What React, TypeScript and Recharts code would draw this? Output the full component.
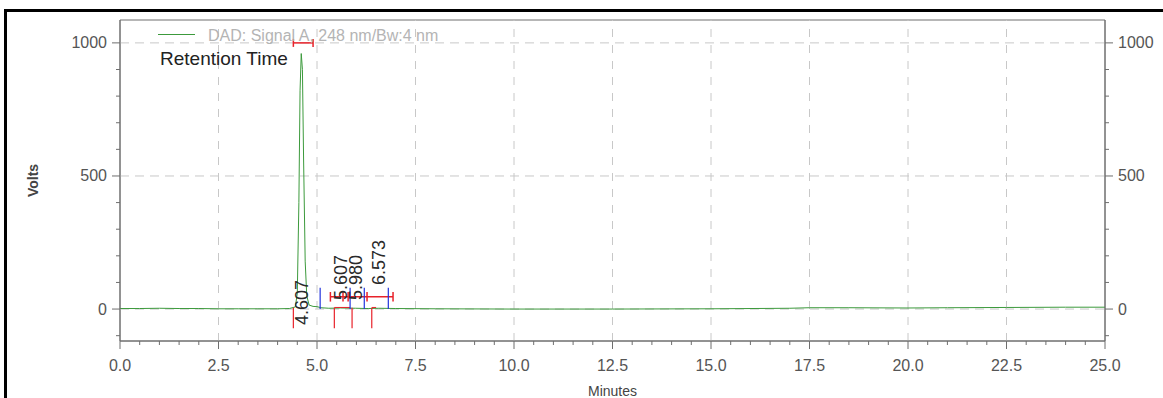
import React from "react";
import { LineChart, Line, XAxis, YAxis, ReferenceLine, ReferenceDot, ReferenceArea } from "recharts";

// chromatogram trace (minutes, volts)
const times = [0, 0.5, 1.0, 1.5, 2.0, 2.5, 3.0, 3.5, 4.0, 4.3, 4.45, 4.5, 4.54, 4.57, 4.6, 4.63, 4.66, 4.7, 4.74, 4.8, 4.9, 5.0, 5.1, 5.3, 5.6, 5.98, 6.3, 6.57, 7.0, 8.0, 10.0, 12.5, 15.0, 17.0, 17.5, 18.5, 20.0, 21.0, 22.5, 24.0, 25.0];
const volts = [2, 2, 3, 2, 2, 1, 1, 1, 1, 2, 8, 60, 400, 820, 960, 900, 560, 180, 50, 15, 10, 9, 5, 3, 4, 3, 2, 3, 2, 1, 0, 0, 1, 3, 5, 5, 4, 5, 6, 7, 7];

const xMajorTicks = [0, 2.5, 5, 7.5, 10, 12.5, 15, 17.5, 20, 22.5, 25];
const xAllTicks = [0, 0.5, 1, 1.5, 2, 2.5, 3, 3.5, 4, 4.5, 5, 5.5, 6, 6.5, 7, 7.5, 8, 8.5, 9, 9.5, 10, 10.5, 11, 11.5, 12, 12.5, 13, 13.5, 14, 14.5, 15, 15.5, 16, 16.5, 17, 17.5, 18, 18.5, 19, 19.5, 20, 20.5, 21, 21.5, 22, 22.5, 23, 23.5, 24, 24.5, 25];
const yMajorTicks = [0, 500, 1000];
const yAllTicks = [-100, 0, 100, 200, 300, 400, 500, 600, 700, 800, 900, 1000];
const xGrid = [2.5, 5, 7.5, 10, 12.5, 15, 17.5, 20, 22.5];

// peak labels
const peakTimes = [4.607, 5.607, 5.98, 6.573];
const peakLabels = ["4.607", "5.607", "5.980", "6.573"];
const peakLabelBase = [-60, 34, 34, 90];

// integration markers
const redDrops = [4.4, 5.44, 5.89, 6.39];
const blueMarks = [5.08, 5.84, 6.2, 6.81];
const barCaps = [5.34, 5.66, 5.79, 6.27, 6.93];
const topCaps = [4.4, 4.9];

const seriesName = "DAD: Signal A, 248 nm/Bw:4 nm";

const data = times.map((t, i) => ({ t, v: volts[i] }));

const font = "'Liberation Sans', Arial, sans-serif";
const axisColor = "#6e6e6e";
const labelColor = "#555";
const gridColor = "#c8c8c8";
const red = "#e8222a";
const blue = "#2233dd";

const XTick = (props: any) => {
    const { x, y, payload } = props;
    const major = xMajorTicks.includes(payload.value);
    return (
        <g>
            <line x1={x} y1={y} x2={x} y2={y + (major ? 8 : 4)} stroke={axisColor} />
            {major && (
                <text x={x} y={y + 30} textAnchor="middle" fill={labelColor} fontSize={16} fontFamily={font}>
                    {payload.value.toFixed(1)}
                </text>
            )}
        </g>
    );
};

const YTick = (props: any) => {
    const { x, y, payload, side } = props;
    const major = yMajorTicks.includes(payload.value);
    const dir = side === "right" ? 1 : -1;
    return (
        <g>
            <line x1={x} y1={y} x2={x + dir * (major ? 8 : 4)} y2={y} stroke={axisColor} />
            {major && (
                <text x={x + dir * 13} y={y} textAnchor={side === "right" ? "start" : "end"} dominantBaseline="central" fill={labelColor} fontSize={16} fontFamily={font}>
                    {payload.value}
                </text>
            )}
        </g>
    );
};

const PeakLabel = (text: string) => (props: any) => {
    const { cx, cy } = props;
    return (
        <text x={cx} y={cy} transform={`rotate(-90 ${cx} ${cy})`} dominantBaseline="central" fill="#2a2a2a" fontSize={18} fontFamily={font}>
            {text}
        </text>
    );
};

function App() {
    return (
        <div style={{ position: "absolute", left: 0, top: 0, width: 1163, height: 398, background: "#fff", overflow: "hidden", fontFamily: font }}>
            {/* black frame, top and left only */}
            <div style={{ position: "absolute", left: 4, top: 9, width: 1159, height: 3, background: "#000" }} />
            <div style={{ position: "absolute", left: 4, top: 9, width: 3, height: 389, background: "#000" }} />
            <LineChart width={1163} height={398} data={data} margin={{ top: 20, right: 0, bottom: 0, left: 0 }} style={{ position: "absolute", left: 0, top: 0 }}>
                <XAxis dataKey="t" type="number" domain={[0, 25]} ticks={xAllTicks} interval={0} tickLine={false} tickSize={0} tickMargin={0} stroke={axisColor} height={57} tick={<XTick />}
                    label={{ value: "Minutes", position: "insideBottom", offset: 2, fill: "#444", fontSize: 14, fontFamily: font }} />
                <YAxis type="number" domain={[-120, 1086]} allowDataOverflow ticks={yAllTicks} interval={0} tickLine={false} tickSize={0} tickMargin={0} stroke={axisColor} width={120} tick={<YTick side="left" />}
                    label={{ value: "Volts", angle: -90, position: "insideLeft", offset: 33, fill: "#444", fontSize: 14, fontWeight: "bold", fontFamily: font, style: { textAnchor: "middle" } }} />
                <YAxis yAxisId="right" orientation="right" type="number" domain={[-120, 1086]} allowDataOverflow ticks={yAllTicks} interval={0} tickLine={false} tickSize={0} tickMargin={0} stroke={axisColor} width={58} tick={<YTick side="right" />} />
                <ReferenceArea x1={0} x2={25} y1={-120} y2={1086} fill="none" stroke={axisColor} strokeWidth={1} />
                {xGrid.map((g) => (
                    <ReferenceLine key={"gx" + g} x={g} stroke={gridColor} strokeDasharray="8 8" />
                ))}
                {yMajorTicks.map((g) => (
                    <ReferenceLine key={"gy" + g} y={g} stroke={gridColor} strokeDasharray="9 6" />
                ))}
                <Line type="linear" dataKey="v" name={seriesName} stroke="#3c9a3c" strokeWidth={1} dot={false} isAnimationActive={false} />
                {/* top retention bar */}
                <ReferenceLine segment={[{ x: topCaps[0], y: 1000 }, { x: topCaps[1], y: 1000 }]} stroke={red} strokeWidth={1.5} />
                {topCaps.map((c) => (
                    <ReferenceLine key={"tc" + c} segment={[{ x: c, y: 985 }, { x: c, y: 1015 }]} stroke={red} strokeWidth={1.5} />
                ))}
                {/* integration markers */}
                <ReferenceLine segment={[{ x: barCaps[0], y: 46 }, { x: barCaps[barCaps.length - 1], y: 46 }]} stroke={red} strokeWidth={1.5} />
                {barCaps.map((c) => (
                    <ReferenceLine key={"bc" + c} segment={[{ x: c, y: 28 }, { x: c, y: 64 }]} stroke={red} strokeWidth={1.5} />
                ))}
                {redDrops.map((c) => (
                    <ReferenceLine key={"rd" + c} segment={[{ x: c, y: 5 }, { x: c, y: -72 }]} stroke={red} strokeWidth={1.2} />
                ))}
                <ReferenceLine segment={[{ x: redDrops[1], y: 6 }, { x: blueMarks[1], y: 6 }]} stroke={red} strokeWidth={1} />
                <ReferenceLine segment={[{ x: redDrops[3], y: 6 }, { x: 6.5, y: 6 }]} stroke={red} strokeWidth={1} />
                {blueMarks.map((c) => (
                    <ReferenceLine key={"bm" + c} segment={[{ x: c, y: 0 }, { x: c, y: 80 }]} stroke={blue} strokeWidth={1.2} />
                ))}
                {peakTimes.map((t, i) => (
                    <ReferenceDot key={"pl" + t} x={t} y={peakLabelBase[i]} r={0} shape={PeakLabel(peakLabels[i])} />
                ))}
            </LineChart>
            {/* legend and caption */}
            <div style={{ position: "absolute", left: 158, top: 34, width: 37, height: 0, borderTop: "1.5px solid #3c9a3c" }} />
            <div style={{ position: "absolute", left: 208, top: 28, fontSize: 16, lineHeight: "16px", color: "#b4b4b4", whiteSpace: "nowrap" }}>{seriesName}</div>
            <div style={{ position: "absolute", left: 160, top: 49, fontSize: 19, lineHeight: "19px", color: "#222", whiteSpace: "nowrap" }}>Retention Time</div>
        </div>
    );
}

export default App;
